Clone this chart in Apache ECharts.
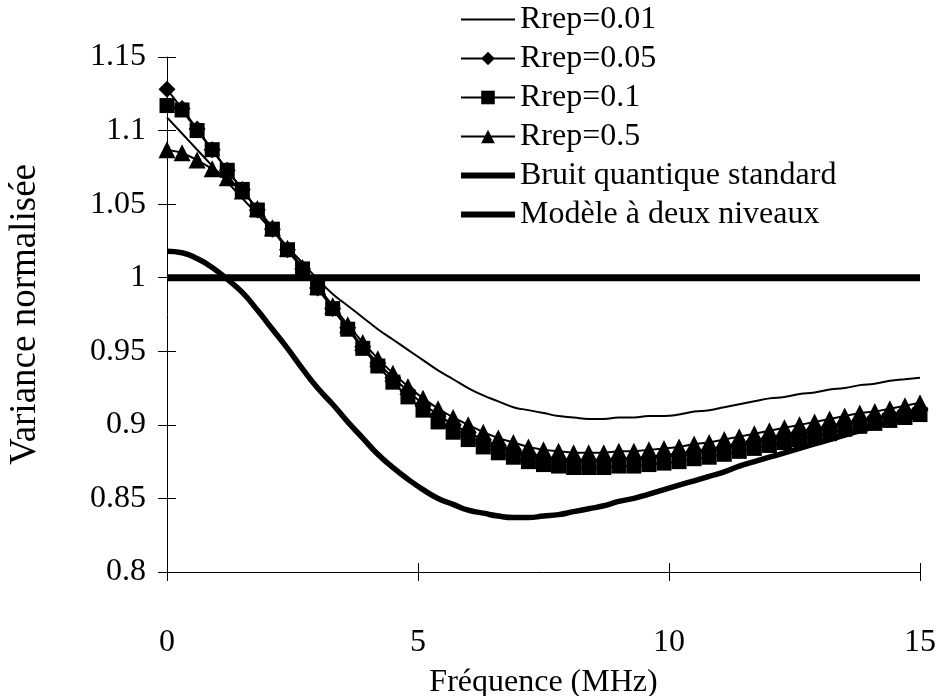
<!DOCTYPE html>
<html>
<head>
<meta charset="utf-8">
<script src="https://cdn.jsdelivr.net/npm/echarts@6/dist/echarts.min.js"></script>
<style>html,body{margin:0;padding:0;background:#fff;}#c{width:937px;height:696px;}</style>
</head>
<body>
<div id="c"></div>
<script>
const freq = [0,0.3,0.6,0.9,1.2,1.5,1.8,2.1,2.4,2.7,3,3.3,3.6,3.9,4.2,4.5,4.8,5.1,5.4,5.7,6,6.3,6.6,6.9,7.2,7.5,7.8,8.1,8.4,8.7,9,9.3,9.6,9.9,10.2,10.5,10.8,11.1,11.4,11.7,12,12.3,12.6,12.9,13.2,13.5,13.8,14.1,14.4,14.7,15];
const rrep001 = [1.109,1.098,1.087,1.076,1.065,1.054,1.043,1.032,1.021,1.010,
0.999,0.989,0.981,0.973,0.965,0.958,0.951,0.944,0.937,0.931,
0.925,0.920,0.916,0.912,0.910,0.908,0.906,0.905,0.904,0.904,
0.905,0.905,0.906,0.906,0.907,0.909,0.910,0.912,0.914,0.916,
0.918,0.919,0.921,0.922,0.924,0.925,0.927,0.928,0.930,0.931,
0.932];
const rrep005 = [1.128,1.115,1.101,1.087,1.073,1.060,1.046,1.033,1.019,1.006,
0.993,0.979,0.966,0.953,0.942,0.932,0.923,0.914,0.907,0.900,
0.895,0.890,0.886,0.883,0.880,0.878,0.877,0.876,0.876,0.876,
0.877,0.877,0.878,0.879,0.880,0.882,0.883,0.885,0.887,0.889,
0.891,0.893,0.895,0.897,0.899,0.901,0.903,0.905,0.907,0.909,
0.911];
const rrep01 = [1.117,1.114,1.100,1.087,1.073,1.060,1.046,1.033,1.019,1.006,
0.993,0.979,0.965,0.952,0.940,0.929,0.919,0.910,0.902,0.895,
0.890,0.885,0.881,0.878,0.875,0.873,0.872,0.871,0.871,0.871,
0.872,0.872,0.873,0.874,0.875,0.877,0.878,0.880,0.882,0.884,
0.886,0.888,0.890,0.892,0.894,0.897,0.899,0.901,0.903,0.905,
0.907];
const rrep05 = [1.087,1.085,1.080,1.074,1.068,1.059,1.047,1.034,1.020,1.007,
0.994,0.981,0.968,0.956,0.945,0.935,0.926,0.918,0.911,0.905,
0.900,0.895,0.891,0.888,0.885,0.883,0.882,0.881,0.881,0.881,
0.882,0.882,0.883,0.884,0.885,0.887,0.888,0.890,0.892,0.894,
0.896,0.898,0.900,0.902,0.904,0.906,0.908,0.909,0.911,0.913,
0.915];
const sqlFreq = [0, 15];
const sqlValues = [1, 1];
const modele = [1.018,1.017,1.013,1.007,0.999,0.990,0.978,0.965,0.952,0.938,
0.925,0.914,0.902,0.891,0.880,0.871,0.863,0.856,0.850,0.846,
0.842,0.840,0.838,0.837,0.837,0.838,0.839,0.841,0.843,0.845,
0.848,0.850,0.853,0.856,0.859,0.862,0.865,0.868,0.872,0.875,
0.878,0.881,0.884,0.887,0.890,0.893,0.896,0.899,0.902,0.904,
0.907];
const names = ['Rrep=0.01','Rrep=0.05','Rrep=0.1','Rrep=0.5','Bruit quantique standard','Modèle à deux niveaux'];
const xTitle = 'Fréquence (MHz)';
const yTitle = 'Variance normalisée';

function pairs(xs, ys){ return xs.map((x,i)=>[x, ys[i]]); }

const font = 'Liberation Serif';
const thinIcon = 'path://M0,0L54,0L54,2L0,2Z';
const thickIcon = 'path://M0,0L54,0L54,6L0,6Z';
const chart = echarts.init(document.getElementById('c'));
chart.setOption({
  animation:false,
  backgroundColor:'#fff',
  grid:{left:167,right:17,top:57,bottom:124,containLabel:false,outerBoundsMode:'none'},
  legend:{
    orient:'vertical', left:455, top:-3,
    itemWidth:54, itemHeight:17, itemGap:4,
    symbolKeepAspect:true,
    data:[
      {name:names[0],icon:thinIcon},
      {name:names[1]},
      {name:names[2]},
      {name:names[3]},
      {name:names[4],icon:thickIcon},
      {name:names[5],icon:thickIcon}
    ],
    textStyle:{fontFamily:font,fontSize:32,color:'#000',lineHeight:35}
  },
  xAxis:[{
    type:'value', min:0, max:15, interval:5, position:'bottom',
    name:xTitle, nameLocation:'middle', nameGap:95,
    nameTextStyle:{fontFamily:font,fontSize:32,color:'#000'},
    axisLine:{lineStyle:{color:'#000',width:1}},
    axisTick:{inside:false,length:9,lineStyle:{color:'#000'}},
    axisLabel:{fontFamily:font,fontSize:32,color:'#000',margin:55},
    splitLine:{show:false}
  },{
    type:'value', min:0, max:15, interval:5, position:'bottom',
    axisLine:{show:false},
    axisTick:{inside:true,length:9,lineStyle:{color:'#000'}},
    axisLabel:{show:false},
    splitLine:{show:false}
  }],
  yAxis:[{
    type:'value', min:0.8, max:1.15, interval:0.05, position:'left',
    name:yTitle, nameLocation:'middle', nameGap:123, nameRotate:90,
    nameTextStyle:{fontFamily:font,fontSize:37,color:'#000'},
    axisLine:{show:true,lineStyle:{color:'#000',width:1}},
    axisTick:{show:true,inside:false,length:9,lineStyle:{color:'#000'}},
    axisLabel:{fontFamily:font,fontSize:32,color:'#000',margin:21,
      formatter:function(v){return String(parseFloat(v.toFixed(2)));}},
    splitLine:{show:false}
  },{
    type:'value', min:0.8, max:1.15, interval:0.05, position:'left',
    axisLine:{show:false},
    axisTick:{show:true,inside:true,length:9,lineStyle:{color:'#000'}},
    axisLabel:{show:false},
    splitLine:{show:false}
  }],
  series:[
    {name:names[0],type:'line',data:pairs(freq,rrep001),showSymbol:false,symbol:'none',smooth:true,
      lineStyle:{color:'#000',width:2},itemStyle:{color:'#000'},z:3},
    {name:names[1],type:'line',data:pairs(freq,rrep005),symbol:'diamond',symbolSize:17,showSymbol:true,
      lineStyle:{color:'#000',width:2},itemStyle:{color:'#000'},z:4},
    {name:names[2],type:'line',data:pairs(freq,rrep01),symbol:'rect',symbolSize:15,showSymbol:true,
      lineStyle:{color:'#000',width:2},itemStyle:{color:'#000'},z:4},
    {name:names[3],type:'line',data:pairs(freq,rrep05),symbol:'triangle',symbolSize:17,showSymbol:true,
      lineStyle:{color:'#000',width:2},itemStyle:{color:'#000'},z:4},
    {name:names[4],type:'line',data:pairs(sqlFreq,sqlValues),symbol:'none',
      lineStyle:{color:'#000',width:7},itemStyle:{color:'#000'},z:2},
    {name:names[5],type:'line',data:pairs(freq,modele),symbol:'none',smooth:true,
      lineStyle:{color:'#000',width:5.5},itemStyle:{color:'#000'},z:2}
  ]
});
</script>
</body>
</html>
